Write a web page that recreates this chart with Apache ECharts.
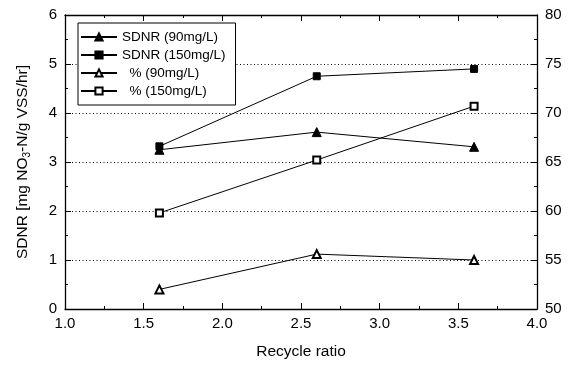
<!DOCTYPE html>
<html>
<head>
<meta charset="utf-8">
<script src="https://cdn.jsdelivr.net/npm/echarts@6/dist/echarts.min.js"></script>
<style>
html,body{margin:0;padding:0;background:#fff;}
#chart{width:577px;height:365px;}
</style>
</head>
<body>
<div id="chart"></div>
<script>
var recycleRatio = [1.6, 2.6, 3.6];
var sdnr90 = [3.25, 3.61, 3.31];
var sdnr150 = [3.32, 4.75, 4.90];
var pct90 = [52.0, 55.6, 55.0];
var pct150 = [59.8, 65.2, 70.7];
var xTicks = {min: 1.0, max: 4.0, interval: 0.5};
var yLeftTicks = {min: 0, max: 6, interval: 1};
var yRightTicks = {min: 50, max: 80, interval: 5};

function pairs(xs, ys) { return xs.map(function (x, i) { return [x, ys[i]]; }); }

var font = 'Liberation Sans, Arial, Helvetica, sans-serif';
var chart = echarts.init(document.getElementById('chart'), null, {renderer: 'canvas'});

var lineStyle = {color: '#000', width: 1};
function mkSeries(name, data, symbol, axis, size) {
  return {
    name: name, type: 'line', yAxisIndex: axis, data: data,
    symbol: symbol, symbolSize: size, showAllSymbol: true,
    lineStyle: lineStyle,
    itemStyle: {color: '#000', borderColor: '#000', borderWidth: 1},
    emphasis: {disabled: true}, animation: false, z: 3
  };
}

var option = {
  animation: false,
  backgroundColor: '#fff',
  textStyle: {fontFamily: font, color: '#000'},
  grid: {left: 65, right: 40, top: 15, bottom: 53, containLabel: false},
  legend: {
    orient: 'vertical', left: 78, top: 23,
    padding: [7, 10, 7, 2], itemGap: 4, itemWidth: 36, itemHeight: 9,
    borderColor: '#000', borderWidth: 1, backgroundColor: '#fff',
    textStyle: {fontFamily: font, fontSize: 13.5, color: '#000'},
    formatter: function (n) { return n.charAt(0) === '%' ? '  ' + n : n; },
    data: ['SDNR (90mg/L)', 'SDNR (150mg/L)', '% (90mg/L)', '% (150mg/L)']
  },
  xAxis: [{
    type: 'value', min: xTicks.min, max: xTicks.max, interval: xTicks.interval,
    name: 'Recycle ratio', nameLocation: 'middle', nameGap: 35,
    nameTextStyle: {fontSize: 15.5, fontFamily: font, color: '#000'},
    axisLine: {show: true, onZero: false, lineStyle: {color: '#000', width: 1.3}},
    axisTick: {show: true, inside: true, length: 6, lineStyle: {color: '#000'}},
    minorTick: {show: true, splitNumber: 2, length: 3, lineStyle: {color: '#000'}},
    axisLabel: {fontSize: 15, color: '#000', margin: 7, fontFamily: font,
      formatter: function (v) { return v.toFixed(1); }},
    splitLine: {show: false}
  }, {
    type: 'value', position: 'top', min: xTicks.min, max: xTicks.max, interval: xTicks.interval,
    axisLine: {show: true, onZero: false, lineStyle: {color: '#000', width: 1.3}},
    axisTick: {show: true, inside: true, length: 6, lineStyle: {color: '#000'}},
    minorTick: {show: true, splitNumber: 2, length: 3, lineStyle: {color: '#000'}},
    axisLabel: {show: false}, splitLine: {show: false}
  }],
  yAxis: [{
    type: 'value', position: 'left', min: yLeftTicks.min, max: yLeftTicks.max, interval: yLeftTicks.interval,
    name: '{a|SDNR [mg NO}{s|3}{a|-N/g VSS/hr]}', nameLocation: 'middle', nameGap: 33, nameRotate: 90,
    nameTextStyle: {fontSize: 15.5, fontFamily: font, color: '#000',
      rich: {a: {fontSize: 15.5, fontFamily: font, color: '#000', lineHeight: 19},
             s: {fontSize: 10, fontFamily: font, color: '#000', lineHeight: 19, verticalAlign: 'bottom', padding: [9, 0, 0, 0]}}},
    axisLine: {show: true, onZero: false, lineStyle: {color: '#000', width: 1.3}},
    axisTick: {show: true, inside: true, length: 6, lineStyle: {color: '#000'}},
    minorTick: {show: true, splitNumber: 2, length: 3, lineStyle: {color: '#000'}},
    axisLabel: {fontSize: 15, color: '#000', margin: 8, fontFamily: font},
    splitLine: {show: true, lineStyle: {color: '#000', type: [1, 2.5], width: 1}}
  }, {
    type: 'value', position: 'right', min: yRightTicks.min, max: yRightTicks.max, interval: yRightTicks.interval,
    axisLine: {show: true, onZero: false, lineStyle: {color: '#000', width: 1.3}},
    axisTick: {show: true, inside: true, length: 6, lineStyle: {color: '#000'}},
    minorTick: {show: true, splitNumber: 2, length: 3, lineStyle: {color: '#000'}},
    axisLabel: {fontSize: 15, color: '#000', margin: 8, fontFamily: font},
    splitLine: {show: false}
  }],
  series: [
    mkSeries('SDNR (90mg/L)', pairs(recycleRatio, sdnr90), 'triangle', 0, 9),
    mkSeries('SDNR (150mg/L)', pairs(recycleRatio, sdnr150), 'rect', 0, 7),
    mkSeries('% (90mg/L)', pairs(recycleRatio, pct90), 'emptyTriangle', 1, 8),
    mkSeries('% (150mg/L)', pairs(recycleRatio, pct150), 'emptyRect', 1, 7)
  ]
};
chart.setOption(option);
</script>
</body>
</html>
